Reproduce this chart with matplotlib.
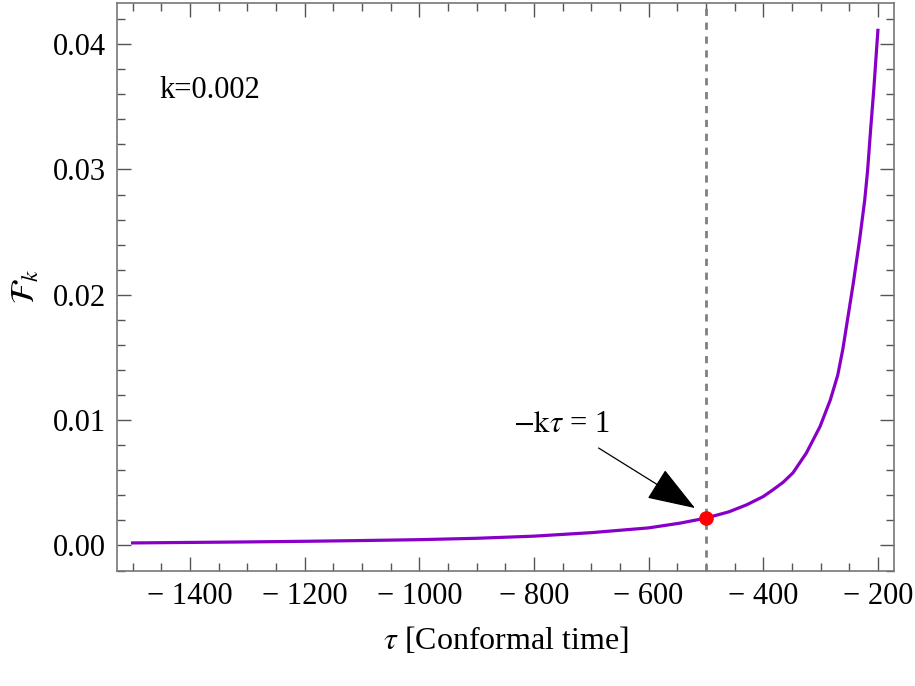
import matplotlib
matplotlib.use("Agg")
import matplotlib.pyplot as plt
from matplotlib.ticker import MultipleLocator, FuncFormatter

# values
tau = [-1500, -1400, -1300, -1200, -1100, -1000, -900, -800, -700, -600,
       -545, -500, -460, -429, -400, -383, -365, -348, -325, -301,
       -283, -270, -261, -252, -243, -232, -223, -218, -213, -207, -200]
F_k = [0.00020, 0.00024, 0.00028, 0.00033, 0.00039, 0.00046, 0.00057, 0.00074,
       0.00102, 0.00140, 0.00178, 0.00218, 0.00268, 0.00324, 0.00390, 0.00444,
       0.00505, 0.00580, 0.00736, 0.00948, 0.01161, 0.01360, 0.01570, 0.01830,
       0.02090, 0.02436, 0.02755, 0.02990, 0.03300, 0.03650, 0.04110]

k_val = 0.002
tau_cross = -500
F_cross = 0.00218

plt.rcParams['font.family'] = ['Liberation Serif', 'DejaVu Serif']
plt.rcParams['mathtext.fontset'] = 'stix'

fig = plt.figure(figsize=(9.15, 6.86), dpi=100)
ax = fig.add_axes([0.128, 0.168, 0.849, 0.828])

ax.plot(tau, F_k, color='#8800c8', lw=2.3, zorder=3)
ax.axvline(tau_cross, color='#808080', lw=2.0, ls=(0, (2.6, 2.4)), zorder=2)
ax.plot([tau_cross], [F_cross], 'o', color='#ff0000', ms=9.5, zorder=4)

ax.annotate(r'$-\mathrm{k}\tau$ = 1', xy=(-519, 0.00298), xytext=(-752, 0.00962),
            ha='center', va='center', fontsize=22,
            arrowprops=dict(arrowstyle='-|>,head_length=1.4,head_width=0.5',
                            color='black', lw=0.9, shrinkA=8, shrinkB=0))
ax.text(-1365, 0.0363, 'k=%g' % k_val, fontsize=22, ha='center', va='center')

ax.set_xlim(-1527, -172)
ax.set_ylim(-0.00202, 0.0433)
ax.xaxis.set_major_locator(MultipleLocator(200))
ax.xaxis.set_minor_locator(MultipleLocator(50))
ax.yaxis.set_major_locator(MultipleLocator(0.01))
ax.yaxis.set_minor_locator(MultipleLocator(0.002))
ax.xaxis.set_major_formatter(FuncFormatter(lambda v, p: '\u2212 %d' % abs(v) if v < 0 else '%d' % v))
ax.yaxis.set_major_formatter(FuncFormatter(lambda v, p: '%.2f' % v))

ax.tick_params(which='both', direction='in', top=True, right=True, colors='#555555',
               labelcolor='black', labelsize=22, width=1)
ax.tick_params(which='major', length=10, pad=8)
ax.tick_params(which='minor', length=6)
for s in ax.spines.values():
    s.set_color('#777777')
    s.set_linewidth(1.2)

ax.set_xlabel(r'$\tau$ [Conformal time]', fontsize=23, labelpad=10)
ax.set_ylabel(r'$\mathcal{F}_k$', fontsize=24, labelpad=8)

fig.savefig('out.png', dpi=100)
